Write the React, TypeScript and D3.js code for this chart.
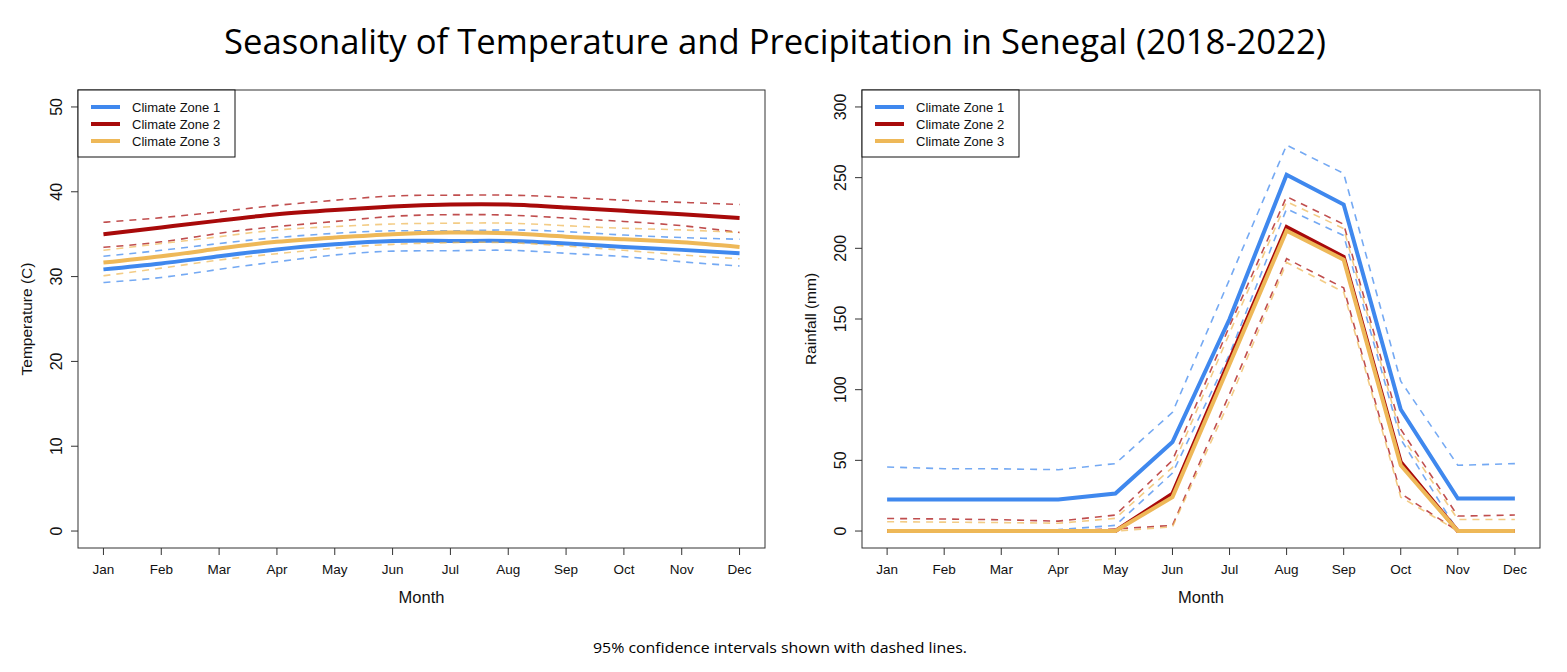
import React from "react";
import * as d3 from "d3";

// monthly climatology by climate zone, 2018-2022
const months = ["Jan", "Feb", "Mar", "Apr", "May", "Jun", "Jul", "Aug", "Sep", "Oct", "Nov", "Dec"];
const zones = ["Climate Zone 1", "Climate Zone 2", "Climate Zone 3"];
const zoneColors = ["#3f88ee", "#a80a0a", "#eeb858"];

// mean temperature (C) with 95% CI bounds
const tempZone1 = [30.85, 31.55, 32.4, 33.2, 33.8, 34.2, 34.2, 34.2, 33.9, 33.5, 33.15, 32.75];
const tempZone1Hi = [32.4, 33.1, 33.9, 34.6, 35.1, 35.4, 35.4, 35.5, 35.3, 34.9, 34.6, 34.4];
const tempZone1Lo = [29.3, 29.9, 30.85, 31.75, 32.55, 33.0, 33.05, 33.1, 32.75, 32.35, 31.75, 31.25];
const tempZone2 = [35.0, 35.8, 36.6, 37.35, 37.85, 38.25, 38.5, 38.5, 38.15, 37.75, 37.35, 36.9];
const tempZone2Hi = [36.4, 36.95, 37.65, 38.4, 39.0, 39.5, 39.6, 39.6, 39.35, 39.0, 38.75, 38.5];
const tempZone2Lo = [33.45, 34.1, 35.1, 35.9, 36.5, 37.1, 37.3, 37.25, 36.9, 36.5, 36.0, 35.2];
const tempZone3 = [31.65, 32.4, 33.3, 34.1, 34.6, 35.0, 35.2, 35.1, 34.7, 34.4, 34.05, 33.5];
const tempZone3Hi = [33.1, 33.9, 34.7, 35.5, 35.9, 36.2, 36.3, 36.3, 36.0, 35.7, 35.5, 35.2];
const tempZone3Lo = [30.1, 31.0, 31.95, 32.7, 33.35, 33.8, 34.0, 34.0, 33.6, 33.1, 32.55, 32.1];

// mean rainfall (mm) with 95% CI bounds
const rainZone1 = [22.3, 22.3, 22.3, 22.3, 26.5, 63, 150, 252, 231, 86, 23, 23];
const rainZone1Hi = [45.3, 44.1, 44, 43.4, 47.7, 84, 178, 273, 253, 106, 46.5, 47.7];
const rainZone1Lo = [0, 0, 0, 1, 4, 41, 125, 228, 209, 65, 0, 0];
const rainZone2 = [0, 0, 0, 0, 0, 26.5, 121, 215, 194, 48.8, 0, 0];
const rainZone2Hi = [8.9, 8.5, 8, 7, 11.3, 50, 145, 236.6, 217, 72, 10.6, 11.3];
const rainZone2Lo = [0, 0, 0, 0, 1.5, 4, 97, 192.7, 172, 26.5, 0, 0];
const rainZone3 = [0, 0, 0, 0, 0, 24, 118, 212.5, 192, 46.5, 0, 0];
const rainZone3Hi = [6.6, 6.3, 6, 5.5, 9, 45, 140, 233, 214, 68, 8.2, 8.2];
const rainZone3Lo = [0, 0, 0, 0, 0, 3, 92, 190, 169, 24, 0, 0];

const tempTicks = [0, 10, 20, 30, 40, 50];
const rainTicks = [0, 50, 100, 150, 200, 250, 300];

const tempSeries = [
  { mean: tempZone1, hi: tempZone1Hi, lo: tempZone1Lo },
  { mean: tempZone2, hi: tempZone2Hi, lo: tempZone2Lo },
  { mean: tempZone3, hi: tempZone3Hi, lo: tempZone3Lo },
];
const rainSeries = [
  { mean: rainZone1, hi: rainZone1Hi, lo: rainZone1Lo },
  { mean: rainZone2, hi: rainZone2Hi, lo: rainZone2Lo },
  { mean: rainZone3, hi: rainZone3Hi, lo: rainZone3Lo },
];

const W = 1567;
const H = 672;
const FONT = "Liberation Sans, Arial, sans-serif";

type Series = { mean: number[]; hi: number[]; lo: number[] };

function Panel(props: {
  left: number; right: number; top: number; bottom: number;
  yMax: number; ticks: number[]; ylab: string; series: Series[]; smooth: boolean;
}) {
  const { left, right, top, bottom, yMax, ticks, ylab, series, smooth } = props;
  // R-style 4% padding on both axes
  const xs = d3.scaleLinear().domain([1 - 0.44, 12 + 0.44]).range([left, right]);
  const ys = d3.scaleLinear().domain([-0.04 * yMax, yMax * 1.04]).range([bottom, top]);
  const line = d3.line<number>()
    .x((_, i) => xs(i + 1))
    .y((d) => ys(d))
    .curve(smooth ? d3.curveNatural : d3.curveLinear);

  return (
    <g>
      {series.map((s, k) => (
        <g key={k}>
          <path d={line(s.mean) || ""} fill="none" stroke={zoneColors[k]} strokeWidth={4} />
          {[s.hi, s.lo].map((ci, j) => (
            <path key={j} d={line(ci) || ""} fill="none" stroke={zoneColors[k]}
              strokeOpacity={0.72} strokeWidth={1.6} strokeDasharray="7,6" />
          ))}
        </g>
      ))}
      <rect x={left} y={top} width={right - left} height={bottom - top} fill="none" stroke="#333" strokeWidth={1} />
      {months.map((m, i) => (
        <g key={m} transform={`translate(${xs(i + 1)},${bottom})`}>
          <line y2={7} stroke="#333" />
          <text y={26} textAnchor="middle" fontSize={13.5} fontFamily={FONT} fill="#111">{m}</text>
        </g>
      ))}
      {ticks.map((t) => (
        <g key={t} transform={`translate(${left},${ys(t)})`}>
          <line x2={-7} stroke="#333" />
          <text transform="translate(-16,0) rotate(-90)" textAnchor="middle" fontSize={16}
            fontFamily={FONT} fill="#111">{t}</text>
        </g>
      ))}
      <text x={(left + right) / 2} y={bottom + 55} textAnchor="middle" fontSize={16.5} fontFamily={FONT} fill="#111">Month</text>
      <text transform={`translate(${left - 46},${(top + bottom) / 2}) rotate(-90)`} textAnchor="middle"
        fontSize={15.5} fontFamily={FONT} fill="#111">{ylab}</text>
      <g transform={`translate(${left},${top})`}>
        <rect width={157} height={67} fill="white" stroke="#111" strokeWidth={1} />
        {zones.map((z, k) => (
          <g key={z} transform={`translate(0,${17 + k * 17})`}>
            <line x1={13} x2={42} stroke={zoneColors[k]} strokeWidth={4} />
            <text x={54} y={4.5} fontSize={13} fontFamily={FONT} fill="#111">{z}</text>
          </g>
        ))}
      </g>
    </g>
  );
}

export default function App() {
  return (
    <svg width={W} height={H} style={{ display: "block", position: "absolute", left: 0, top: 0 }}>
      <rect width={W} height={H} fill="white" />
      <text x={775} y={54} textAnchor="middle" fontSize={35} fontFamily="Open Sans, sans-serif"
        textLength={1102} lengthAdjust="spacingAndGlyphs" fill="#000">
        Seasonality of Temperature and Precipitation in Senegal (2018-2022)
      </text>
      <Panel left={78} right={765} top={90} bottom={548} yMax={50} ticks={tempTicks}
        ylab="Temperature (C)" series={tempSeries} smooth={true} />
      <Panel left={862} right={1540} top={90} bottom={548} yMax={300} ticks={rainTicks}
        ylab="Rainfall (mm)" series={rainSeries} smooth={false} />
      <text x={780} y={653} textAnchor="middle" fontSize={15} fontFamily="Open Sans, sans-serif"
        textLength={374} lengthAdjust="spacingAndGlyphs" fill="#000">
        95% confidence intervals shown with dashed lines.
      </text>
    </svg>
  );
}
